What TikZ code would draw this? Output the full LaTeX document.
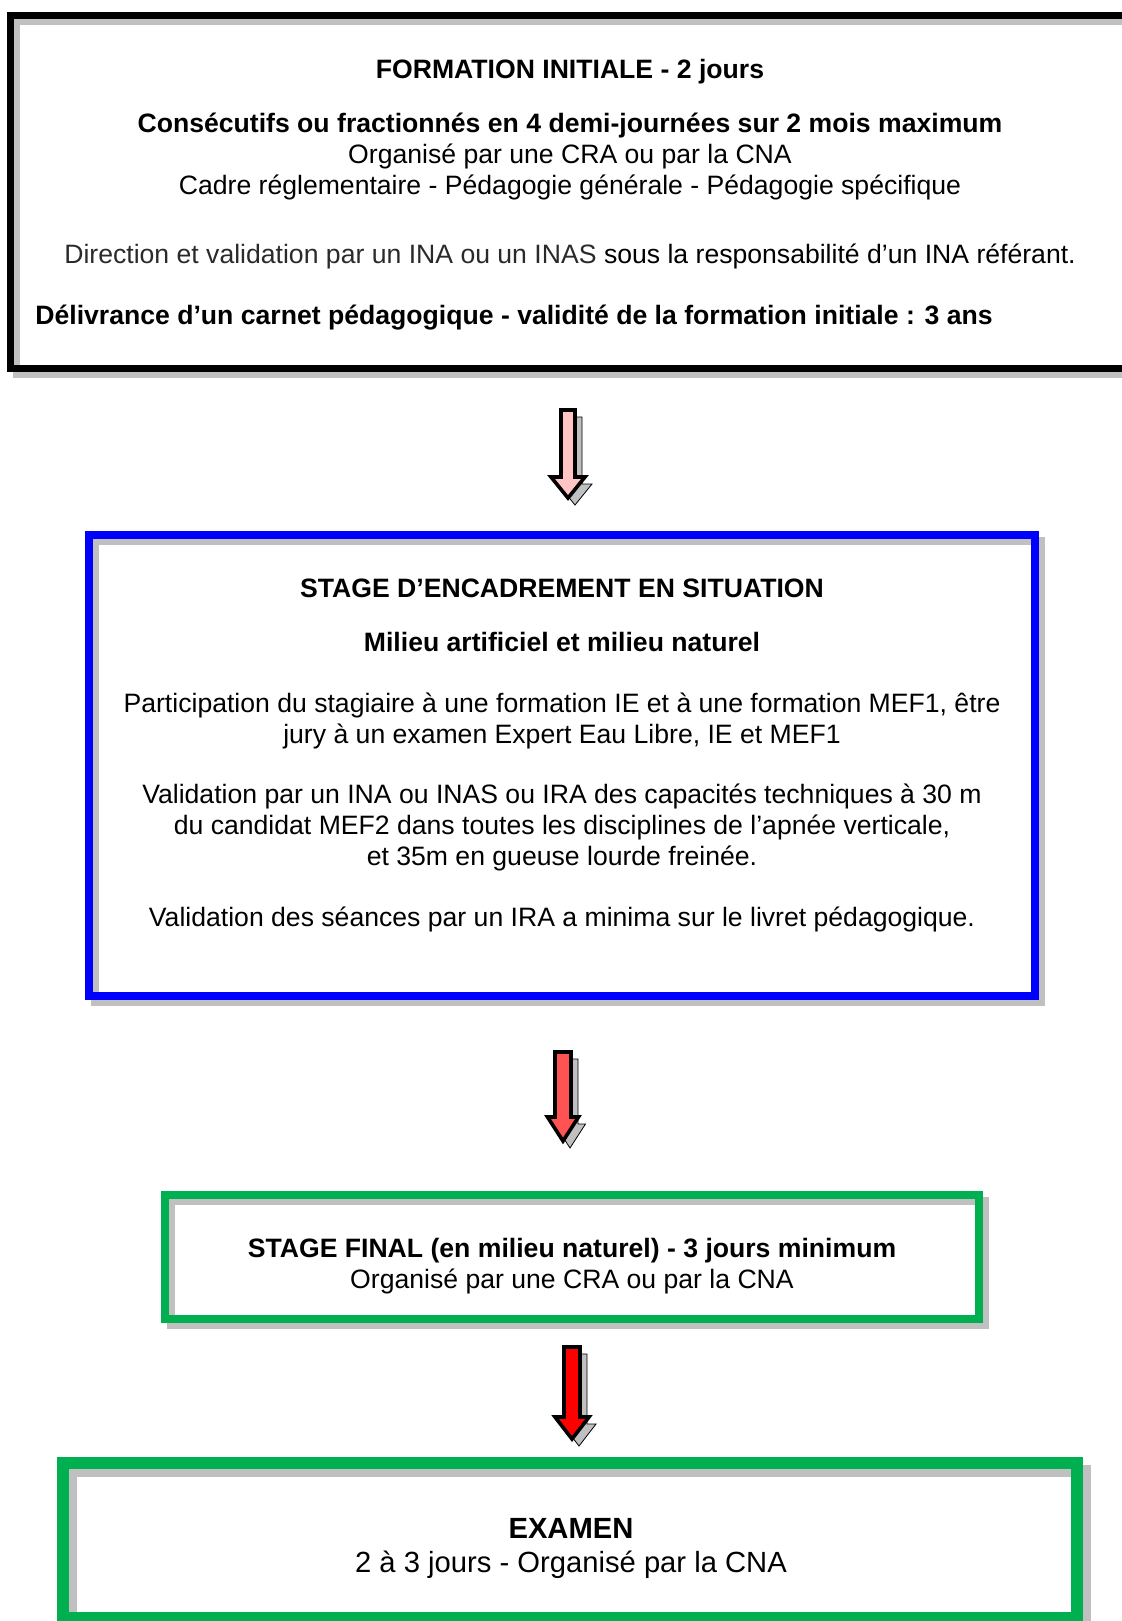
\documentclass[tikz,border=0pt]{standalone}
\usepackage{fontspec}
\setmainfont{Liberation Sans}
\definecolor{grisombre}{HTML}{C0C0C0}
\definecolor{vert}{HTML}{00B050}
\definecolor{bleu}{HTML}{0000FF}
\definecolor{rose}{HTML}{FFC4C4}
\definecolor{rougeclair}{HTML}{FF5252}
\definecolor{rouge}{HTML}{FF0000}
\definecolor{gristexte}{HTML}{2A2A2A}

\begin{document}
\begin{tikzpicture}[x=0.5pt,y=-0.5pt]
    \tikzstyle{every node}=[inner sep=0pt, align=center, font=\fontsize{13.3}{15.5}\selectfont]
    \tikzstyle{cadre}=[rectangle, draw, line width=4pt]
    \tikzstyle{ombrecadre}=[rectangle, draw=grisombre, line width=4pt]
    \tikzstyle{fleche}=[draw=black, line width=1.8pt, line join=miter]
    \tikzstyle{ombrefleche}=[fill=grisombre]

    \useasboundingbox (0,0) rectangle (1122,1621);

    % formation initiale
    \node[ombrecadre, line width=3.5pt, minimum width=559.75pt, minimum height=176pt] (ombre1) at (576.25,198) {};
    \node[cadre, draw=black, line width=3.5pt, minimum width=559.75pt, minimum height=176pt] (initiale) at (570.25,192) {};
    \node[font=\fontsize{13.3}{15.5}\selectfont\bfseries] (titre1) at (570,72) {FORMATION INITIALE - 2 jours};
    \node (texte1) at (570,156.5) {\textbf{Consécutifs ou fractionnés en 4 demi-journées sur 2 mois maximum}\\
        Organisé par une CRA ou par la CNA\\
        Cadre réglementaire - Pédagogie générale - Pédagogie spécifique};
    \node (direction) at (570,256.5) {\textcolor{gristexte}{Direction et validation par un INA ou un INAS} sous la responsabilité d’un INA référant.};
    \node[anchor=west, font=\fontsize{13.3}{15.5}\selectfont\bfseries] (carnet) at (35,318) {Délivrance d’un carnet pédagogique - validité de la formation initiale : 3 ans};

    % fleche 1
    \draw[ombrefleche, shift={(7,7)}] (561,410) -- (575,410) -- (575,477) -- (585,477) -- (568,498) -- (551,477) -- (561,477) -- cycle;
    \draw[fleche, fill=rose] (561,410) -- (575,410) -- (575,477) -- (585,477) -- (568,498) -- (551,477) -- (561,477) -- cycle;

    % stage d'encadrement
    \node[ombrecadre, minimum width=473pt, minimum height=230.5pt] (ombre2) at (568,771.5) {};
    \node[cadre, draw=bleu, minimum width=473pt, minimum height=230.5pt] (encadrement) at (562,765.5) {};
    \node[font=\fontsize{13.3}{15.5}\selectfont\bfseries] (titre2) at (562,588) {STAGE D’ENCADREMENT EN SITUATION};
    \node[font=\fontsize{13.3}{15.5}\selectfont\bfseries] (milieu) at (562,642) {Milieu artificiel et milieu naturel};
    \node (participation) at (562,720.5) {Participation du stagiaire à une formation IE et à une formation MEF1, être\\
        jury à un examen Expert Eau Libre, IE et MEF1};
    \node (capacites) at (562,827.5) {Validation par un INA ou INAS ou IRA des capacités techniques à 30 m\\
        du candidat MEF2 dans toutes les disciplines de l’apnée verticale,\\
        et 35m en gueuse lourde freinée.};
    \node (seances) at (562,919) {Validation des séances par un IRA a minima sur le livret pédagogique.};

    % fleche 2
    \draw[ombrefleche, shift={(7,7)}] (555,1052) -- (571,1052) -- (571,1117) -- (578.5,1117) -- (563,1141) -- (547.5,1117) -- (555,1117) -- cycle;
    \draw[fleche, fill=rougeclair] (555,1052) -- (571,1052) -- (571,1117) -- (578.5,1117) -- (563,1141) -- (547.5,1117) -- (555,1117) -- cycle;

    % stage final
    \node[ombrecadre, minimum width=407pt, minimum height=62pt] (ombre3) at (578,1263) {};
    \node[cadre, draw=vert, minimum width=407pt, minimum height=62pt] (final) at (572,1257) {};
    \node (texte3) at (572,1266.5) {\textbf{STAGE FINAL (en milieu naturel) - 3 jours minimum}\\
        Organisé par une CRA ou par la CNA};

    % fleche 3
    \draw[ombrefleche, shift={(7,7)}] (564,1347) -- (580,1347) -- (580,1417) -- (589,1417) -- (572,1439) -- (555,1417) -- (564,1417) -- cycle;
    \draw[fleche, fill=rouge] (564,1347) -- (580,1347) -- (580,1417) -- (589,1417) -- (572,1439) -- (555,1417) -- (564,1417) -- cycle;

    % examen
    \node[ombrecadre, line width=6.3pt, minimum width=507pt, minimum height=77.5pt] (ombre4) at (578,1548.5) {};
    \node[cadre, draw=vert, line width=6.3pt, minimum width=507pt, minimum height=77.5pt] (examen) at (570,1540.5) {};
    \node[font=\fontsize{14.6}{17}\selectfont] (texte4) at (571,1548) {\textbf{EXAMEN}\\
        2 à 3 jours - Organisé par la CNA};
\end{tikzpicture}
\end{document}
